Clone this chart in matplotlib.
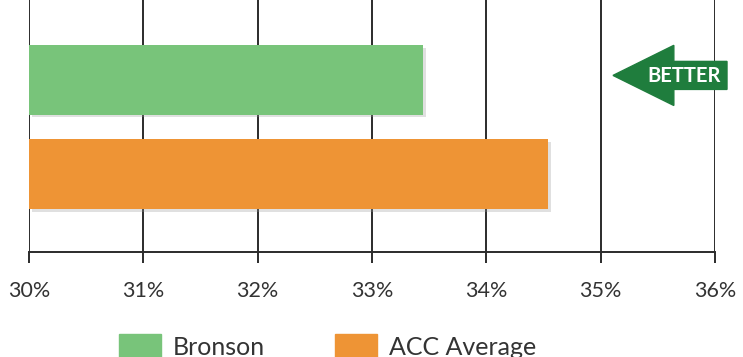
import matplotlib
matplotlib.use("Agg")
import matplotlib.pyplot as plt
import matplotlib.patheffects as pe
from matplotlib.patches import Patch, Polygon

plt.rcParams['font.family'] = ['Lato', 'DejaVu Sans']

# data
labels = ["Bronson", "ACC Average"]
values = [33.45, 34.54]
colors = ["#78c47a", "#ee9435"]
ticks = [30, 31, 32, 33, 34, 35, 36]
tick_labels = ["30%", "31%", "32%", "33%", "34%", "35%", "36%"]

fig = plt.figure(figsize=(7.43, 3.57), dpi=100)
ax = fig.add_axes([29 / 743, 1 - 252 / 357, 686 / 743, 252 / 357])

ypos = [0, 1]
shadow = [pe.SimplePatchShadow(offset=(2, -2), shadow_rgbFace="#999999", alpha=0.3), pe.Normal()]
for y, v, c in zip(ypos, values, colors):
    ax.barh(y, v - 30, left=30, height=0.74, color=c, zorder=3, path_effects=shadow)

ax.set_xlim(30, 36)
ax.set_ylim(1.83, -0.85)
for t in ticks:
    ax.axvline(t, color="#2b2b2b", lw=1.4, zorder=1)

ax.set_xticks(ticks)
ax.set_xticklabels(tick_labels, fontsize=15.5, color="#333333")
ax.tick_params(axis="x", length=8, width=1.4, color="#2b2b2b", pad=13)
ax.set_yticks([])
for s in ["top", "right", "left"]:
    ax.spines[s].set_visible(False)
ax.spines["bottom"].set_linewidth(1.4)
ax.spines["bottom"].set_color("#2b2b2b")

# BETTER arrow
yc = -0.048
bw = 0.149
hw = 0.32
x0, xh, x1 = 35.108, 35.64, 36.105
arrow = Polygon([(x0, yc), (xh, yc - hw), (xh, yc - bw), (x1, yc - bw),
                 (x1, yc + bw), (xh, yc + bw), (xh, yc + hw)],
                closed=True, color="#1f7d3d", zorder=5, clip_on=False)
ax.add_patch(arrow)
ax.text(35.73, yc + 0.01, "BETTER", color="white", fontweight="bold", fontsize=14.5,
        ha="center", va="center", zorder=6)

handles = [Patch(color=c, label=l) for c, l in zip(colors, labels)]
fig.legend(handles=handles, loc="center", bbox_to_anchor=(0.441, 0.03), ncol=2,
           frameon=False, fontsize=18, handlelength=1.68, handleheight=1.1,
           columnspacing=2.8, handletextpad=0.48, labelcolor="#333333",
           borderpad=0, borderaxespad=0)

fig.savefig("out.png", dpi=100)
